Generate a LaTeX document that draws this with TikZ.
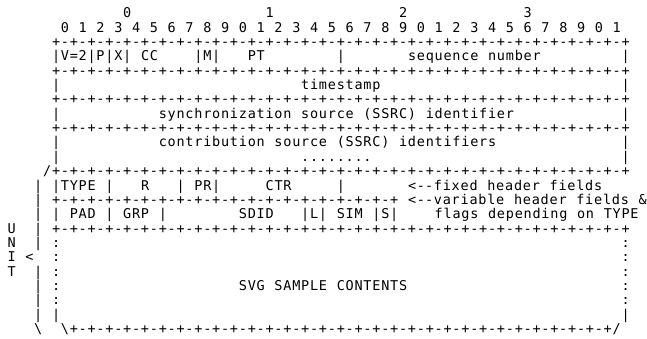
\documentclass[tikz,border=0pt]{standalone}
\usepackage{fontspec}
\newfontfamily\ascfont[LetterSpace=5.72]{DejaVu Sans Mono}
\newcommand\ascsetup{\ascfont\fontsize{13.5pt}{14pt}\selectfont\frenchspacing\setlength{\spaceskip}{9.672pt}}
\begin{document}
\begin{tikzpicture}[x=1pt,y=-1pt,
  asc/.style={anchor=base west,inner sep=0pt,outer sep=0pt,text=black,font=\ascsetup}]
\useasboundingbox (0,0) rectangle (647,339);
\newcommand\putA[4]{\node[asc] (#1) at ({52.0+8.9*(#3)},{17.7+14.36*((#2)-1)}) {#4};}
\def\plrow{+-+-+-+-+-+-+-+-}
% row 1: byte numbers
\putA{t0}{1}{8}{0}
\putA{t1}{1}{24}{1}
\putA{t2}{1}{39}{2}
\putA{t3}{1}{53}{3}
% row 2: bit numbers
\putA{bits}{2}{1}{0 1 2 3 4 5 6 7 8 9 0 1 2 3 4 5 6 7 8 9 0 1 2 3 4 5 6 7 8 9 0 1}
% row 3
\putA{p3}{3}{0}{\plrow\plrow\plrow\plrow+}
% row 4
\putA{r4a}{4}{0}{|V=2|P|X|}
\putA{r4b}{4}{10}{CC}
\putA{r4c}{4}{16}{|M|}
\putA{r4d}{4}{22}{PT}
\putA{r4e}{4}{32}{|}
\putA{r4f}{4}{40}{sequence number}
\putA{r4g}{4}{64}{|}
\putA{p5}{5}{0}{\plrow\plrow\plrow\plrow+}
% row 6
\putA{r6a}{6}{0}{|}
\putA{r6b}{6}{28}{timestamp}
\putA{r6c}{6}{64}{|}
\putA{p7}{7}{0}{\plrow\plrow\plrow\plrow+}
% row 8
\putA{r8a}{8}{0}{|}
\putA{r8b}{8}{12}{synchronization source (SSRC) identifier}
\putA{r8c}{8}{64}{|}
\putA{p9}{9}{0}{\plrow\plrow\plrow\plrow+}
% row 10, 11
\putA{r10a}{10}{0}{|}
\putA{r10b}{10}{12}{contribution source (SSRC) identifiers}
\putA{r10c}{10}{64}{|}
\putA{r11a}{11}{0}{|}
\putA{r11b}{11}{28}{........}
\putA{r11c}{11}{64}{|}
% row 12
\putA{r12a}{12}{-1}{/}
\putA{p12}{12}{0}{\plrow\plrow\plrow\plrow+}
% row 13
\putA{r13o}{13}{-2}{|}
\putA{r13a}{13}{0}{|TYPE |}
\putA{r13b}{13}{10}{R}
\putA{r13c}{13}{14}{| PR|}
\putA{r13d}{13}{24}{CTR}
\putA{r13e}{13}{32}{|}
\putA{r13f}{13}{40}{<-\kern0pt-fixed header fields}
% row 14
\putA{r14o}{14}{-2}{|}
\putA{p14}{14}{0}{\plrow\plrow+-+-+-+}
\putA{r14f}{14}{40}{<-\kern0pt-variable header fields \&}
% row 15
\putA{r15o}{15}{-2}{|}
\putA{r15a}{15}{0}{|}
\putA{r15b}{15}{2}{PAD}
\putA{r15c}{15}{6}{|}
\putA{r15d}{15}{8}{GRP}
\putA{r15e}{15}{12}{|}
\putA{r15f}{15}{21}{SDID}
\putA{r15g}{15}{28}{|L| SIM |S|}
\putA{r15h}{15}{43}{flags depending on TYPE}
% row 16
\putA{u16}{16}{-5}{U}
\putA{r16o}{16}{-2}{|}
\putA{p16}{16}{0}{\plrow\plrow\plrow\plrow+}
% rows 17-22
\putA{n17}{17}{-5}{N}
\putA{r17o}{17}{-2}{|}
\putA{r17a}{17}{0}{:}
\putA{r17b}{17}{64}{:}
\putA{i18}{18}{-5}{I}
\putA{r18o}{18}{-3}{<}
\putA{r18a}{18}{0}{:}
\putA{r18b}{18}{64}{:}
\putA{t19}{19}{-5}{T}
\putA{r19o}{19}{-2}{|}
\putA{r19a}{19}{0}{:}
\putA{r19b}{19}{64}{:}
\putA{r20o}{20}{-2}{|}
\putA{r20a}{20}{0}{:}
\putA{r20c}{20}{21}{SVG SAMPLE CONTENTS}
\putA{r20b}{20}{64}{:}
\putA{r21o}{21}{-2}{|}
\putA{r21a}{21}{0}{:}
\putA{r21b}{21}{64}{:}
\putA{r22o}{22}{-2}{|}
\putA{r22a}{22}{0}{|}
\putA{r22b}{22}{64}{|}
% row 23
\putA{r23o}{23}{-2}{\textbackslash}
\putA{r23a}{23}{1}{\textbackslash}
\putA{p23}{23}{2}{\plrow\plrow\plrow+-+-+-+-+-+-+}
\putA{r23b}{23}{63}{/}
\end{tikzpicture}
\end{document}
